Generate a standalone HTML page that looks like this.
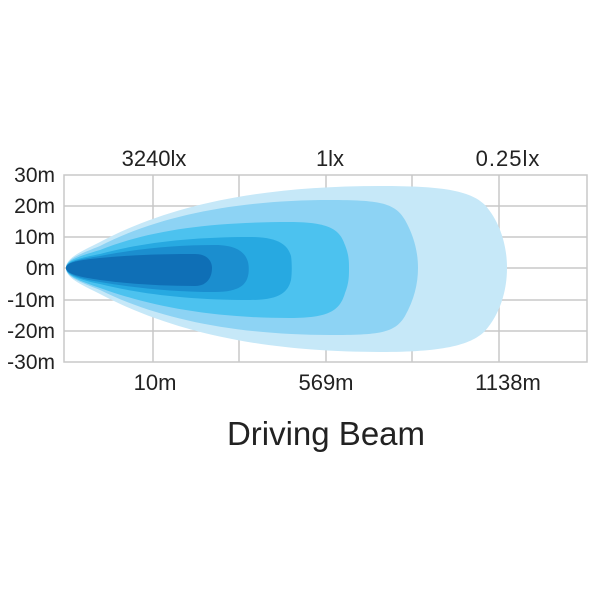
<!DOCTYPE html>
<html><head><style>
html,body{margin:0;padding:0;background:#fff;width:600px;height:600px;overflow:hidden}
</style></head><body>
<svg width="600" height="600" xmlns="http://www.w3.org/2000/svg" font-family="Liberation Sans, sans-serif">
<g stroke="#c8c8c8" stroke-width="1.5" fill="none">
<rect x="64" y="175" width="523" height="187"/>
<line x1="64" y1="206" x2="587" y2="206"/><line x1="64" y1="237" x2="587" y2="237"/>
<line x1="64" y1="268" x2="587" y2="268"/><line x1="64" y1="300" x2="587" y2="300"/>
<line x1="64" y1="331" x2="587" y2="331"/>
<line x1="153" y1="175" x2="153" y2="362"/><line x1="239" y1="175" x2="239" y2="362"/>
<line x1="326" y1="175" x2="326" y2="362"/><line x1="412" y1="175" x2="412" y2="362"/>
<line x1="499" y1="175" x2="499" y2="362"/>
</g>
<path fill="#c6e8f8" d="M66,268 C66,258 80,252 100,242 C170,205 260,186 380,186 C440,186 470,190 485,205 C500,222 507,245 507,268 C507,291 500,314 485,331 C470,346 440,352 380,352 C260,352 170,331 100,294 C80,284 66,278 66,268Z"/>
<path fill="#8dd3f4" d="M66,268 C66,259 80,254 100,246 C160,215 240,200 330,200 C380,200 395,203 405,220 C414,236 418,252 418,268 C418,284 414,300 405,316 C395,333 380,335 330,335 C240,335 160,320 100,290 C80,282 66,277 66,268Z"/>
<path fill="#4cc2ef" d="M66,268 C66,260 80,256 100,250 C150,230 210,222 290,222 C330,222 340,230 345,245 C349,255 349,262 349,268 C349,276 349,283 345,293 C340,310 330,318 290,318 C210,318 150,306 100,288 C80,281 66,276 66,268Z"/>
<path fill="#27a9e1" d="M66,268 C66,261 80,258 100,254 C140,243 190,237 250,237 C280,237 288,246 291,256 C292,262 292,274 291,280 C288,292 280,300 250,300 C190,300 140,294 100,284 C80,280 66,275 66,268Z"/>
<path fill="#1b8ecf" d="M66,268 C66,262 80,259 100,256 C135,249 175,245 215,245 C240,245 246,255 248,262 C249,266 249,272 248,276 C246,284 240,292 215,292 C175,292 135,288 100,282 C80,279 66,274 66,268Z"/>
<path fill="#0f6fb6" d="M66,268 C66,262 80,260 100,258 C130,255 160,254 195,254 C208,254 212,262 212,268 C212,276 208,286 195,286 C160,286 130,284 100,280 C80,277 66,274 66,268Z"/>
<g font-size="21" fill="#222">
<text x="55" y="182" text-anchor="end">30m</text>
<text x="55" y="213" text-anchor="end">20m</text>
<text x="55" y="244" text-anchor="end">10m</text>
<text x="55" y="275" text-anchor="end">0m</text>
<text x="55" y="307" text-anchor="end">-10m</text>
<text x="55" y="338" text-anchor="end">-20m</text>
<text x="55" y="369" text-anchor="end">-30m</text>
<text x="154" y="166" text-anchor="middle" font-size="22">3240lx</text>
<text x="330" y="166" text-anchor="middle" font-size="22">1lx</text>
<text x="508" y="166" text-anchor="middle" font-size="22" letter-spacing="1">0.25lx</text>
<text x="155" y="390" text-anchor="middle" font-size="22">10m</text>
<text x="326" y="390" text-anchor="middle" font-size="22">569m</text>
<text x="508" y="390" text-anchor="middle" font-size="22">1138m</text>
</g>
<text x="326" y="445" text-anchor="middle" font-size="33" fill="#222">Driving Beam</text>
</svg>
</body></html>
